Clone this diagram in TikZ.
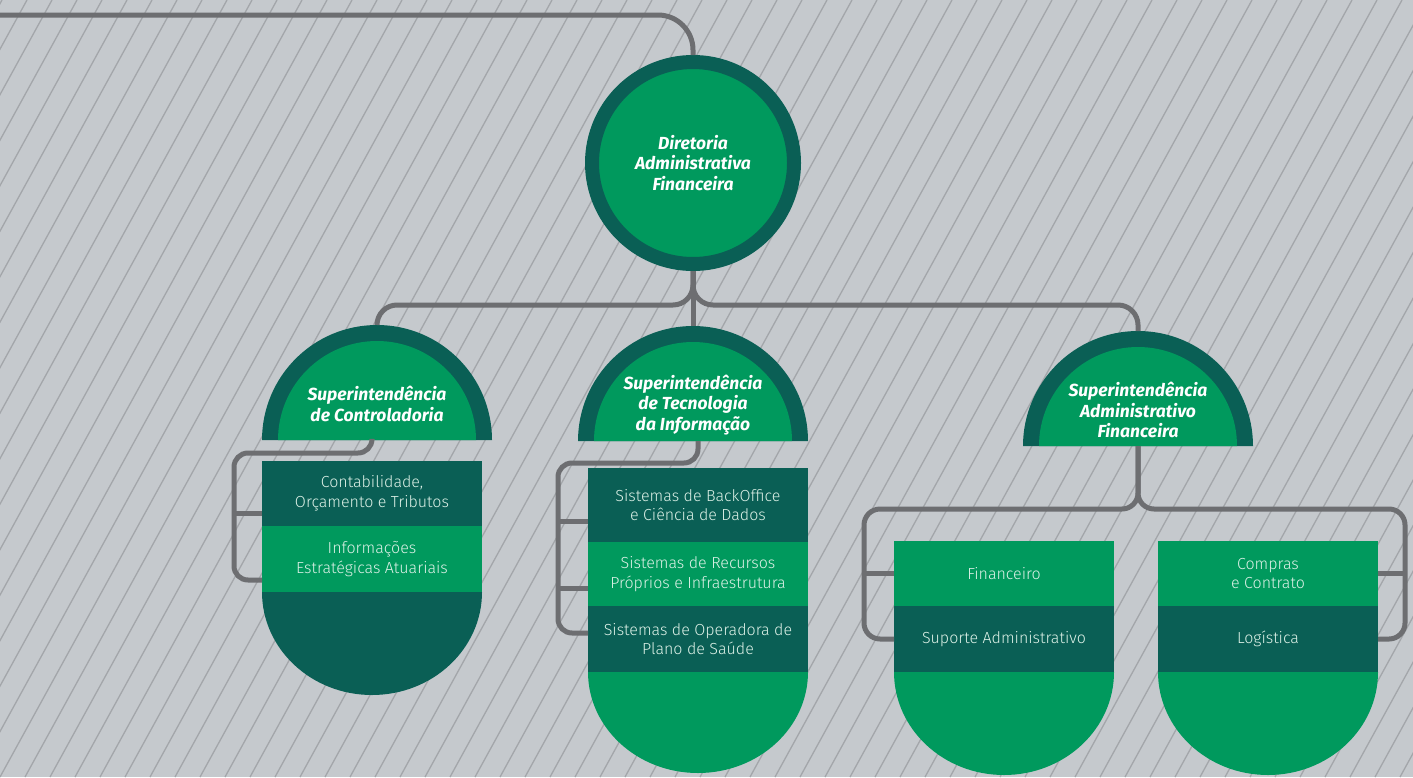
\documentclass[tikz,border=0pt]{standalone}
\usepackage{fontspec}
\setmainfont{Fira Sans}
\newfontfamily\lightfont{Fira Sans Light}
\usepackage{tikz}
\usetikzlibrary{positioning}
\definecolor{bgray}{HTML}{C5C9CD}
\definecolor{stripegray}{HTML}{A3A6AA}
\definecolor{linkgray}{HTML}{6D6E71}
\definecolor{unigreen}{HTML}{00995D}
\definecolor{unidark}{HTML}{0A5F55}
\definecolor{mint}{HTML}{DDF1E7}

\begin{document}
\begin{tikzpicture}[x=1pt, y=-1pt,
  link/.style={draw=linkgray, line width=5pt, rounded corners=14pt},
  headtext/.style={text=white, align=center, font=\bfseries\itshape\fontsize{17.5}{20.5}\selectfont},
  unitrow/.style={minimum width=220pt, inner sep=0pt, outer sep=0pt, text=mint, align=center,
    font=\lightfont\fontsize{16}{19.5}\selectfont}]
  \useasboundingbox (0,0) rectangle (1413,777);
  % background
  \fill[bgray] (0,0) rectangle (1413,777);
  \begin{scope}
    \clip (0,0) rectangle (1413,777);
    \foreach \k in {-18,...,57}
      \draw[stripegray, line width=1.3pt] ({25*\k},777) -- ++(427,-777);
  \end{scope}

  % top: diretoria
  \node[circle, fill=unigreen, draw=unidark, line width=14pt, minimum size=202pt, inner sep=0pt, headtext]
    (dir) at (693,163) {Diretoria\\Administrativa\\Financeira};

  % superintendencias
  \foreach \nm/\cx/\by/\txt in {ctrl/377/440/{Superintendência\\de Controladoria},
      tec/693/441/{Superintendência\\de Tecnologia\\da Informação},
      adm/1138/446/{Superintendência\\Administrativo\\Financeira}} {
    \fill[unidark] (\cx-115,\by) arc[start angle=180, end angle=360, radius=115] -- cycle;
    \fill[unigreen] (\cx-99,\by) arc[start angle=180, end angle=360, radius=99] -- cycle;
    \node[headtext] (\nm) at (\cx,\by-36) {\txt};
    \coordinate (top \nm) at (\cx,\by-115);
    \coordinate (base \nm) at (\cx,\by);
  }

  % left: controladoria
  \node[unitrow, fill=unidark, minimum height=65pt] (ct1) at (372,493.5) {Contabilidade,\\Orçamento e Tributos};
  \node[unitrow, fill=unigreen, minimum height=66pt, below=0pt of ct1] (ct2) {Informações\\Estratégicas Atuariais};
  \fill[unidark] (ct2.south west) arc[start angle=180, end angle=0, x radius=110, y radius=103] -- cycle;

  % middle: tecnologia
  \node[unitrow, fill=unidark, minimum height=74pt] (tc1) at (698,505) {Sistemas de BackOffice\\e Ciência de Dados};
  \node[unitrow, fill=unigreen, minimum height=64pt, below=0pt of tc1] (tc2) {Sistemas de Recursos\\Próprios e Infraestrutura};
  \node[unitrow, fill=unidark, minimum height=66pt, below=0pt of tc2] (tc3) {Sistemas de Operadora de\\Plano de Saúde};
  \fill[unigreen] (tc3.south west) arc[start angle=180, end angle=0, x radius=110, y radius=101] -- cycle;

  % right: administrativo
  \node[unitrow, fill=unigreen, minimum height=65pt] (fin1) at (1004,573.5) {Financeiro};
  \node[unitrow, fill=unidark, minimum height=66pt, below=0pt of fin1] (fin2) {Suporte Administrativo};
  \fill[unigreen] (fin2.south west) arc[start angle=180, end angle=0, x radius=110, y radius=103] -- cycle;
  \node[unitrow, fill=unigreen, minimum height=65pt] (comp) at (1268,573.5) {Compras\\e Contrato};
  \node[unitrow, fill=unidark, minimum height=66pt, below=0pt of comp] (log) {Logística};
  \fill[unigreen] (log.south west) arc[start angle=180, end angle=0, x radius=110, y radius=103] -- cycle;

  % connectors
  \coordinate (edge) at (-5,15);
  \coordinate (fork) at (693,305);
  \coordinate (admfork) at (1138,509);
  \draw[link, rounded corners=35pt] (edge) -| (dir.north);
  \draw[link, rounded corners=20pt] (dir.south) -- (fork) -| (top ctrl);
  \draw[link, rounded corners=20pt] (dir.south) -- (fork) -| (top adm);
  \draw[link] (dir.south) -- (top tec);

  \draw[link] (ct1.north |- base ctrl) -- ++(0,13) -| ([xshift=-28pt,yshift=-21pt]ct2.west) -- ([yshift=-21pt]ct2.west);
  \draw[link] ([yshift=-20pt]ct1.west) -- ++(-28,0);

  \draw[link] (tc1.north |- base tec) -- ++(0,22) -| ([xshift=-30pt,yshift=6pt]tc3.west) -- ([yshift=6pt]tc3.west);
  \draw[link] ([yshift=-16pt]tc1.west) -- ++(-30,0);
  \draw[link] ([yshift=-14pt]tc2.west) -- ++(-30,0);

  \draw[link, rounded corners=16pt] (base adm) -- (admfork) -| ([xshift=-30pt]fin2.west) -- (fin2.west);
  \draw[link, rounded corners=16pt] (base adm) -- (admfork) -| ([xshift=27pt]log.east) -- (log.east);
  \draw[link] (fin1.west) -- ++(-30,0);
  \draw[link] (comp.east) -- ++(27,0);
\end{tikzpicture}
\end{document}
